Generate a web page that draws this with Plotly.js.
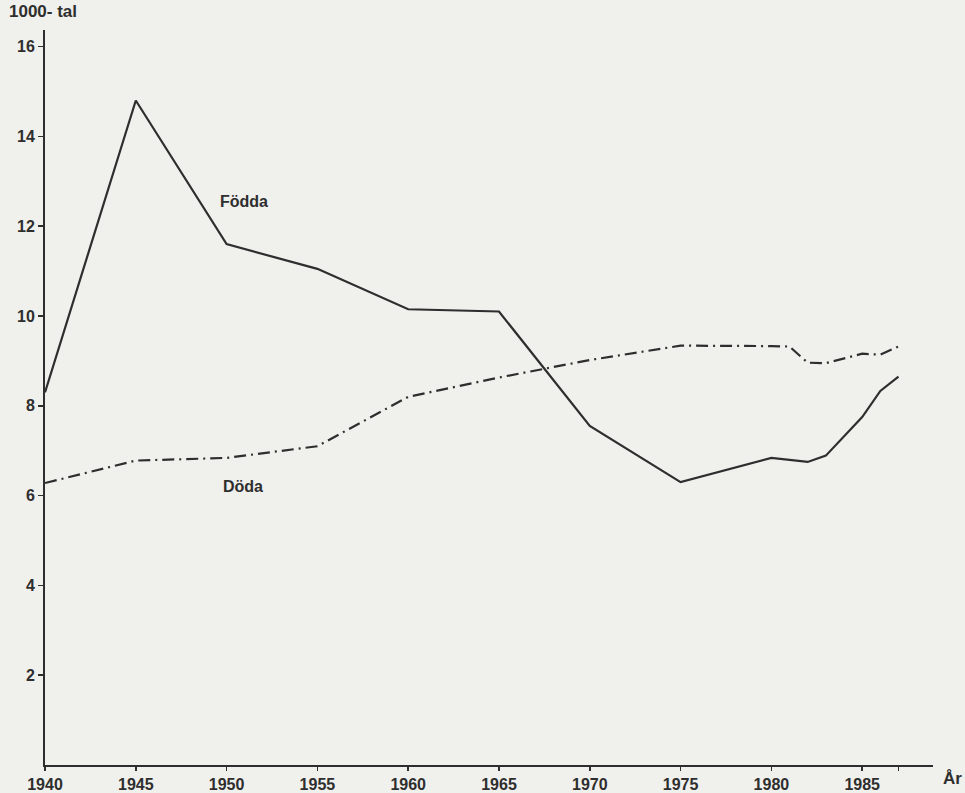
<!DOCTYPE html>
<html>
<head>
<meta charset="utf-8">
<script src="https://cdn.plot.ly/plotly-3.0.1.min.js"></script>
<style>
html,body{margin:0;padding:0;background:#f0f0ec;}
#chart{width:965px;height:793px;}
</style>
</head>
<body>
<div id="chart"></div>
<script>
// Data (1000-tal)
var yearsFodda = [1940, 1945, 1950, 1955, 1960, 1965, 1970, 1975, 1980, 1982, 1983, 1985, 1986, 1987];
var fodda      = [8.3, 14.8, 11.6, 11.05, 10.15, 10.1, 7.55, 6.3, 6.84, 6.75, 6.89, 7.75, 8.33, 8.65];
var yearsDoda  = [1940, 1945, 1950, 1955, 1960, 1965, 1970, 1975, 1980, 1981, 1982, 1983, 1985, 1986, 1987];
var doda       = [6.28, 6.78, 6.84, 7.1, 8.2, 8.63, 9.02, 9.34, 9.33, 9.32, 8.96, 8.95, 9.16, 9.14, 9.32];
var xTickVals  = [1940, 1945, 1950, 1955, 1960, 1965, 1970, 1975, 1980, 1985, 1987];
var xTickText  = ['1940','1945','1950','1955','1960','1965','1970','1975','1980','1985',''];
var yTickVals  = [2, 4, 6, 8, 10, 12, 14, 16];
var yTickText  = ['2','4','6','8','10','12','14','16'];

var ink = '#2e2e2e';
var fontFam = 'Liberation Sans, Arial, sans-serif';

var traces = [
  {x: yearsFodda, y: fodda, name: 'Födda', type: 'scatter', mode: 'lines',
   line: {color: ink, width: 2.2}},
  {x: yearsDoda, y: doda, name: 'Döda', type: 'scatter', mode: 'lines',
   line: {color: ink, width: 2.2, dash: '12px,5px,2px,5px'}}
];

var layout = {
  width: 965, height: 793,
  paper_bgcolor: '#f0f0ec', plot_bgcolor: '#f0f0ec',
  showlegend: false,
  margin: {l: 45, r: 32, t: 30, b: 28},
  font: {family: fontFam, color: ink},
  xaxis: {
    range: [1940, 1988.9], showgrid: false, zeroline: false,
    showline: true, linecolor: ink, linewidth: 2,
    ticks: 'outside', ticklen: 4, tickwidth: 1.5, tickcolor: ink,
    tickvals: xTickVals, ticktext: xTickText,
    tickfont: {family: fontFam, size: 16, color: ink, weight: 'bold'},
    automargin: false, fixedrange: true
  },
  yaxis: {
    range: [0, 16.37], showgrid: false, zeroline: false,
    showline: true, linecolor: ink, linewidth: 2,
    ticks: 'outside', ticklen: 5, tickwidth: 1.5, tickcolor: ink,
    tickvals: yTickVals, ticktext: yTickText,
    tickfont: {family: fontFam, size: 16, color: ink, weight: 'bold'},
    automargin: false, fixedrange: true
  },
  annotations: [
    {text: '<b>Födda</b>', x: 1950.96, y: 12.56, xref: 'x', yref: 'y',
     showarrow: false, font: {family: fontFam, size: 16, color: ink}},
    {text: '<b>Döda</b>', x: 1950.9, y: 6.21, xref: 'x', yref: 'y',
     showarrow: false, font: {family: fontFam, size: 16, color: ink}},
    {text: '<b>1000- tal</b>', x: -0.043, y: 1.0245, xref: 'paper', yref: 'paper',
     xanchor: 'left', yanchor: 'middle', showarrow: false,
     font: {family: fontFam, size: 17, color: ink}},
    {text: '<b>År</b>', x: 1.0217, y: -0.019, xref: 'paper', yref: 'paper',
     xanchor: 'center', yanchor: 'middle', showarrow: false,
     font: {family: fontFam, size: 17, color: ink}}
  ]
};

Plotly.newPlot('chart', traces, layout, {displayModeBar: false, staticPlot: true});
</script>
</body>
</html>
